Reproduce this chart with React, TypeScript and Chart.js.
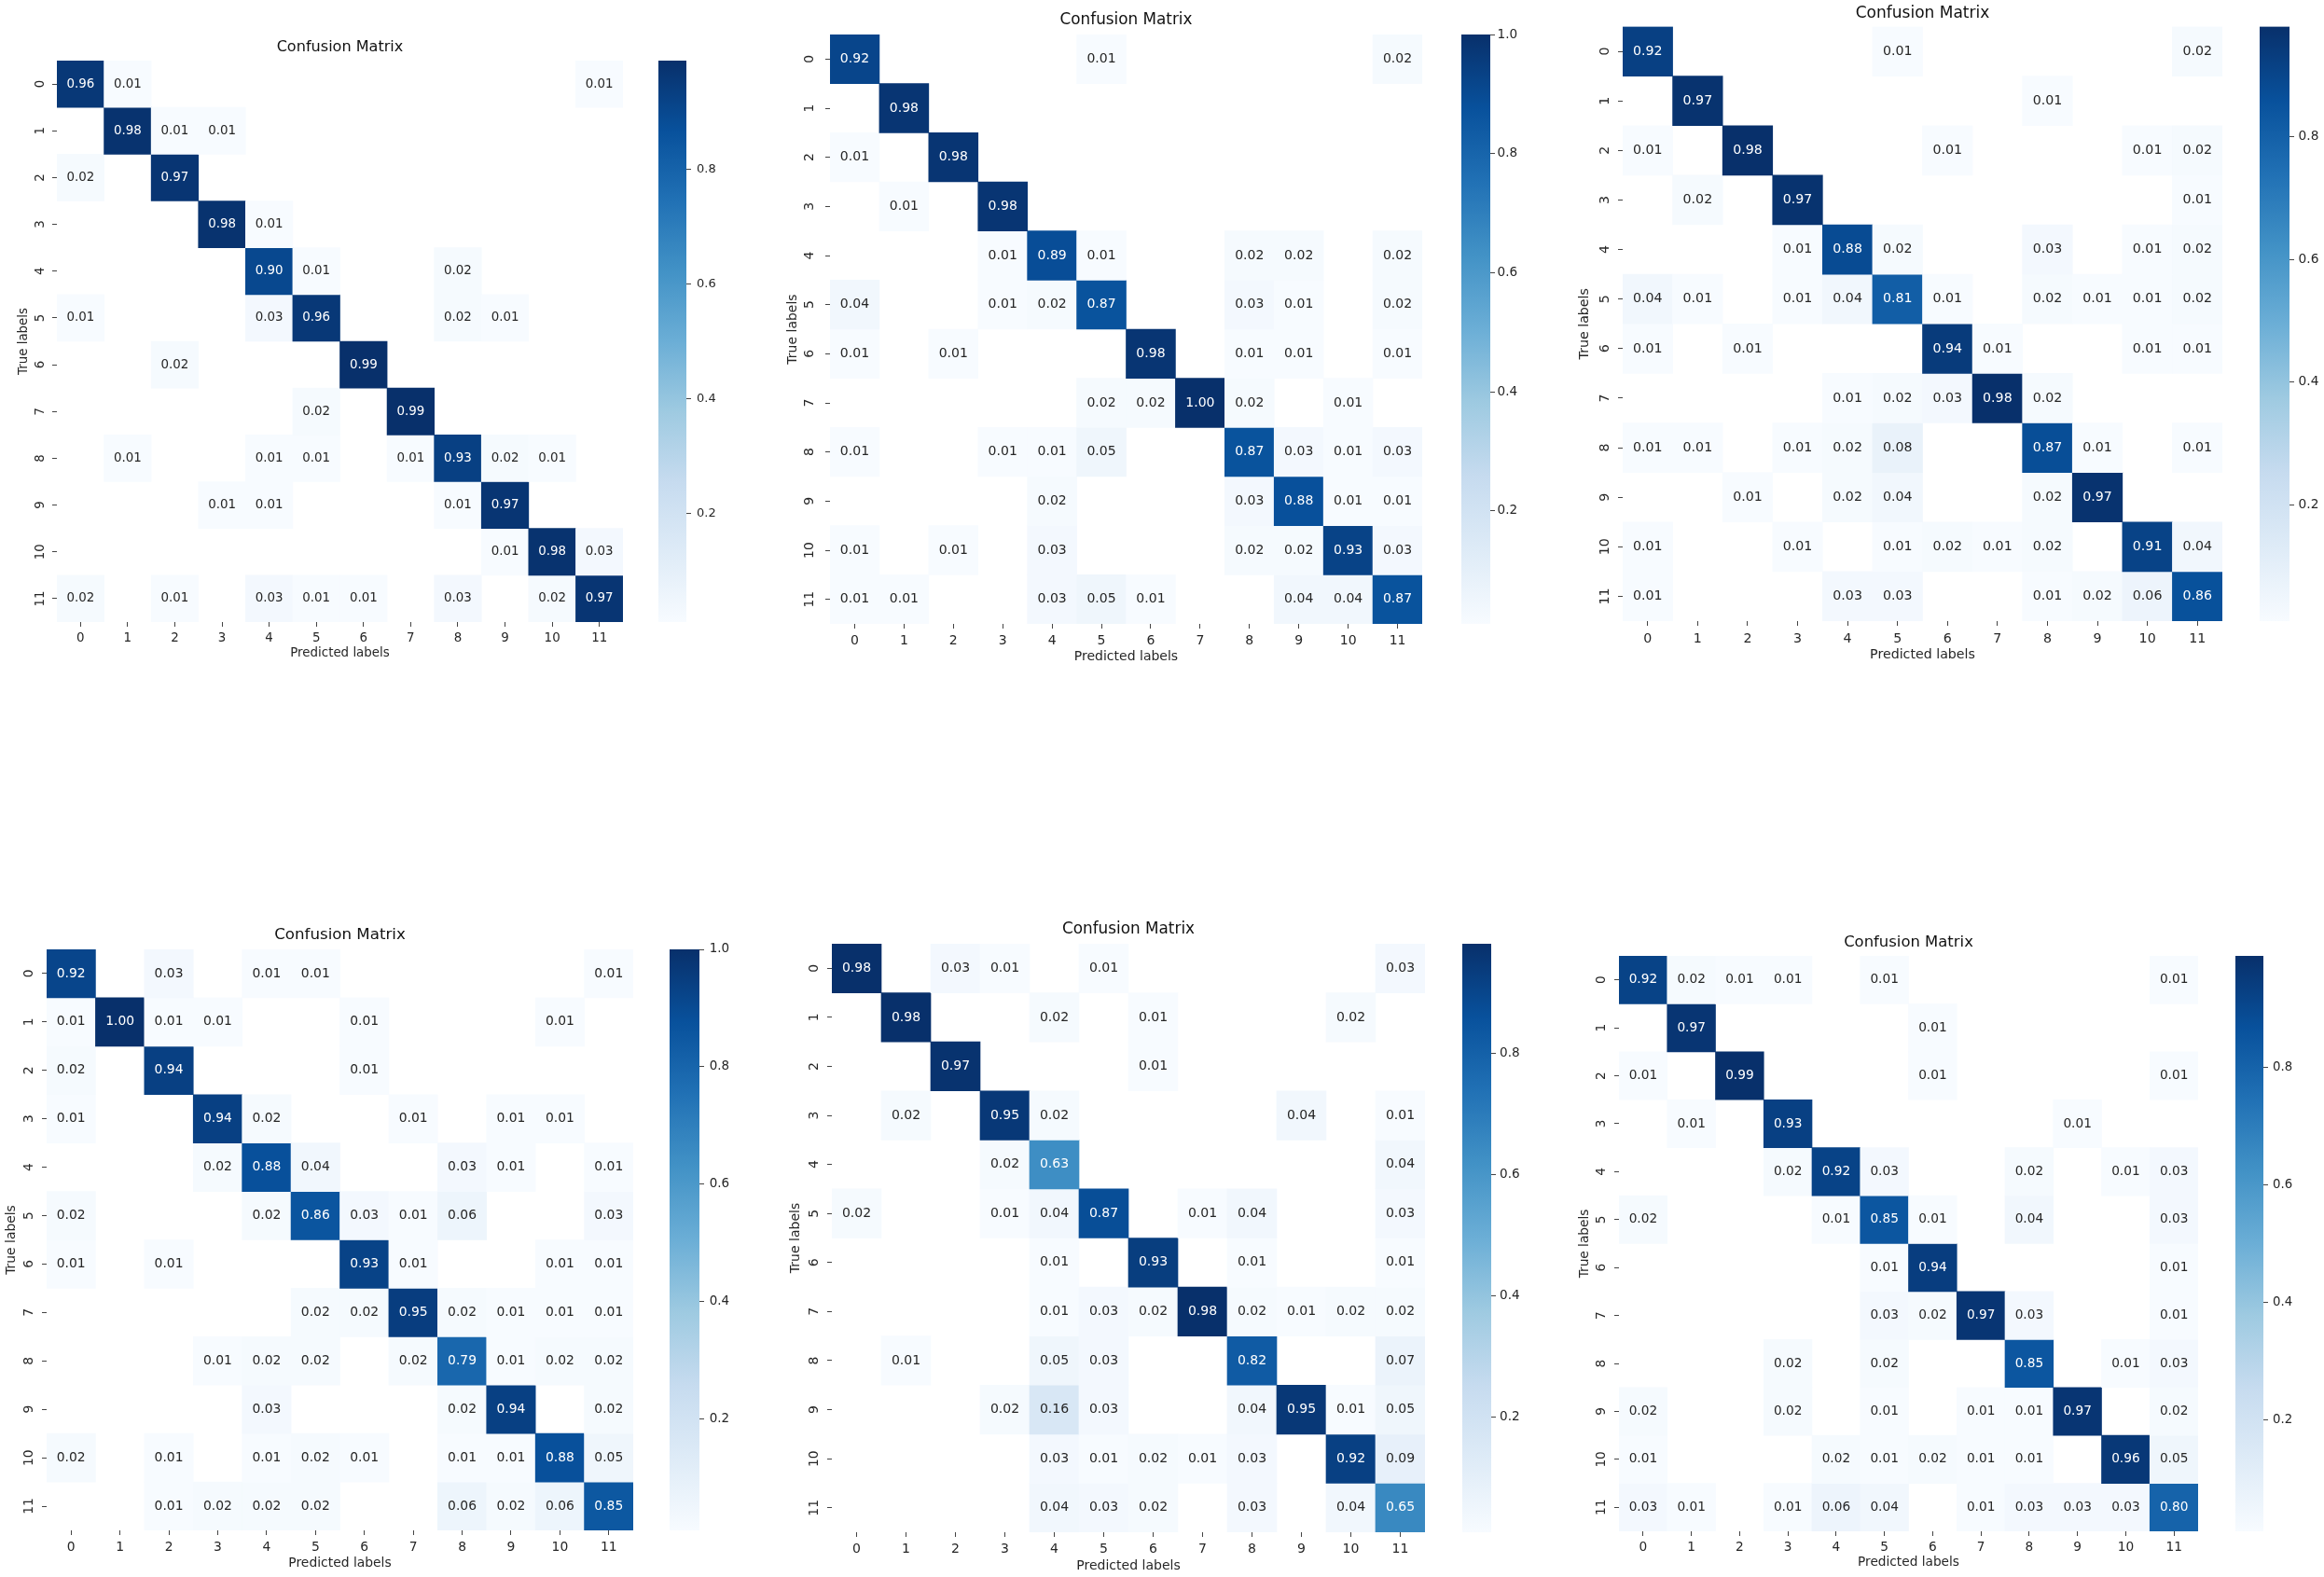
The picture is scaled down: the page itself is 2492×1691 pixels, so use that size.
import React, { useEffect, useRef } from "react";
import { Chart, registerables } from "chart.js";

Chart.register(...registerables);

// ---------------- data ----------------
const CLASS_LABELS = ["0", "1", "2", "3", "4", "5", "6", "7", "8", "9", "10", "11"];
const COLORBAR_TICKS = [0.2, 0.4, 0.6, 0.8, 1.0];
const TITLE_TEXT = "Confusion Matrix";
const X_TITLE = "Predicted labels";
const Y_TITLE = "True labels";
const COLOR_FLOOR = 0.01;

const CM_TOP_LEFT = [
  [0.96, 0.01, 0, 0, 0, 0, 0, 0, 0, 0, 0, 0.01],
  [0, 0.98, 0.01, 0.01, 0, 0, 0, 0, 0, 0, 0, 0],
  [0.02, 0, 0.97, 0, 0, 0, 0, 0, 0, 0, 0, 0],
  [0, 0, 0, 0.98, 0.01, 0, 0, 0, 0, 0, 0, 0],
  [0, 0, 0, 0, 0.9, 0.01, 0, 0, 0.02, 0, 0, 0],
  [0.01, 0, 0, 0, 0.03, 0.96, 0, 0, 0.02, 0.01, 0, 0],
  [0, 0, 0.02, 0, 0, 0, 0.99, 0, 0, 0, 0, 0],
  [0, 0, 0, 0, 0, 0.02, 0, 0.99, 0, 0, 0, 0],
  [0, 0.01, 0, 0, 0.01, 0.01, 0, 0.01, 0.93, 0.02, 0.01, 0],
  [0, 0, 0, 0.01, 0.01, 0, 0, 0, 0.01, 0.97, 0, 0],
  [0, 0, 0, 0, 0, 0, 0, 0, 0, 0.01, 0.98, 0.03],
  [0.02, 0, 0.01, 0, 0.03, 0.01, 0.01, 0, 0.03, 0, 0.02, 0.97],
];

const CM_TOP_MID = [
  [0.92, 0, 0, 0, 0, 0.01, 0, 0, 0, 0, 0, 0.02],
  [0, 0.98, 0, 0, 0, 0, 0, 0, 0, 0, 0, 0],
  [0.01, 0, 0.98, 0, 0, 0, 0, 0, 0, 0, 0, 0],
  [0, 0.01, 0, 0.98, 0, 0, 0, 0, 0, 0, 0, 0],
  [0, 0, 0, 0.01, 0.89, 0.01, 0, 0, 0.02, 0.02, 0, 0.02],
  [0.04, 0, 0, 0.01, 0.02, 0.87, 0, 0, 0.03, 0.01, 0, 0.02],
  [0.01, 0, 0.01, 0, 0, 0, 0.98, 0, 0.01, 0.01, 0, 0.01],
  [0, 0, 0, 0, 0, 0.02, 0.02, 1.0, 0.02, 0, 0.01, 0],
  [0.01, 0, 0, 0.01, 0.01, 0.05, 0, 0, 0.87, 0.03, 0.01, 0.03],
  [0, 0, 0, 0, 0.02, 0, 0, 0, 0.03, 0.88, 0.01, 0.01],
  [0.01, 0, 0.01, 0, 0.03, 0, 0, 0, 0.02, 0.02, 0.93, 0.03],
  [0.01, 0.01, 0, 0, 0.03, 0.05, 0.01, 0, 0, 0.04, 0.04, 0.87],
];

const CM_TOP_RIGHT = [
  [0.92, 0, 0, 0, 0, 0.01, 0, 0, 0, 0, 0, 0.02],
  [0, 0.97, 0, 0, 0, 0, 0, 0, 0.01, 0, 0, 0],
  [0.01, 0, 0.98, 0, 0, 0, 0.01, 0, 0, 0, 0.01, 0.02],
  [0, 0.02, 0, 0.97, 0, 0, 0, 0, 0, 0, 0, 0.01],
  [0, 0, 0, 0.01, 0.88, 0.02, 0, 0, 0.03, 0, 0.01, 0.02],
  [0.04, 0.01, 0, 0.01, 0.04, 0.81, 0.01, 0, 0.02, 0.01, 0.01, 0.02],
  [0.01, 0, 0.01, 0, 0, 0, 0.94, 0.01, 0, 0, 0.01, 0.01],
  [0, 0, 0, 0, 0.01, 0.02, 0.03, 0.98, 0.02, 0, 0, 0],
  [0.01, 0.01, 0, 0.01, 0.02, 0.08, 0, 0, 0.87, 0.01, 0, 0.01],
  [0, 0, 0.01, 0, 0.02, 0.04, 0, 0, 0.02, 0.97, 0, 0],
  [0.01, 0, 0, 0.01, 0, 0.01, 0.02, 0.01, 0.02, 0, 0.91, 0.04],
  [0.01, 0, 0, 0, 0.03, 0.03, 0, 0, 0.01, 0.02, 0.06, 0.86],
];

const CM_BOTTOM_LEFT = [
  [0.92, 0, 0.03, 0, 0.01, 0.01, 0, 0, 0, 0, 0, 0.01],
  [0.01, 1.0, 0.01, 0.01, 0, 0, 0.01, 0, 0, 0, 0.01, 0],
  [0.02, 0, 0.94, 0, 0, 0, 0.01, 0, 0, 0, 0, 0],
  [0.01, 0, 0, 0.94, 0.02, 0, 0, 0.01, 0, 0.01, 0.01, 0],
  [0, 0, 0, 0.02, 0.88, 0.04, 0, 0, 0.03, 0.01, 0, 0.01],
  [0.02, 0, 0, 0, 0.02, 0.86, 0.03, 0.01, 0.06, 0, 0, 0.03],
  [0.01, 0, 0.01, 0, 0, 0, 0.93, 0.01, 0, 0, 0.01, 0.01],
  [0, 0, 0, 0, 0, 0.02, 0.02, 0.95, 0.02, 0.01, 0.01, 0.01],
  [0, 0, 0, 0.01, 0.02, 0.02, 0, 0.02, 0.79, 0.01, 0.02, 0.02],
  [0, 0, 0, 0, 0.03, 0, 0, 0, 0.02, 0.94, 0, 0.02],
  [0.02, 0, 0.01, 0, 0.01, 0.02, 0.01, 0, 0.01, 0.01, 0.88, 0.05],
  [0, 0, 0.01, 0.02, 0.02, 0.02, 0, 0, 0.06, 0.02, 0.06, 0.85],
];

const CM_BOTTOM_MID = [
  [0.98, 0, 0.03, 0.01, 0, 0.01, 0, 0, 0, 0, 0, 0.03],
  [0, 0.98, 0, 0, 0.02, 0, 0.01, 0, 0, 0, 0.02, 0],
  [0, 0, 0.97, 0, 0, 0, 0.01, 0, 0, 0, 0, 0],
  [0, 0.02, 0, 0.95, 0.02, 0, 0, 0, 0, 0.04, 0, 0.01],
  [0, 0, 0, 0.02, 0.63, 0, 0, 0, 0, 0, 0, 0.04],
  [0.02, 0, 0, 0.01, 0.04, 0.87, 0, 0.01, 0.04, 0, 0, 0.03],
  [0, 0, 0, 0, 0.01, 0, 0.93, 0, 0.01, 0, 0, 0.01],
  [0, 0, 0, 0, 0.01, 0.03, 0.02, 0.98, 0.02, 0.01, 0.02, 0.02],
  [0, 0.01, 0, 0, 0.05, 0.03, 0, 0, 0.82, 0, 0, 0.07],
  [0, 0, 0, 0.02, 0.16, 0.03, 0, 0, 0.04, 0.95, 0.01, 0.05],
  [0, 0, 0, 0, 0.03, 0.01, 0.02, 0.01, 0.03, 0, 0.92, 0.09],
  [0, 0, 0, 0, 0.04, 0.03, 0.02, 0, 0.03, 0, 0.04, 0.65],
];

const CM_BOTTOM_RIGHT = [
  [0.92, 0.02, 0.01, 0.01, 0, 0.01, 0, 0, 0, 0, 0, 0.01],
  [0, 0.97, 0, 0, 0, 0, 0.01, 0, 0, 0, 0, 0],
  [0.01, 0, 0.99, 0, 0, 0, 0.01, 0, 0, 0, 0, 0.01],
  [0, 0.01, 0, 0.93, 0, 0, 0, 0, 0, 0.01, 0, 0],
  [0, 0, 0, 0.02, 0.92, 0.03, 0, 0, 0.02, 0, 0.01, 0.03],
  [0.02, 0, 0, 0, 0.01, 0.85, 0.01, 0, 0.04, 0, 0, 0.03],
  [0, 0, 0, 0, 0, 0.01, 0.94, 0, 0, 0, 0, 0.01],
  [0, 0, 0, 0, 0, 0.03, 0.02, 0.97, 0.03, 0, 0, 0.01],
  [0, 0, 0, 0.02, 0, 0.02, 0, 0, 0.85, 0, 0.01, 0.03],
  [0.02, 0, 0, 0.02, 0, 0.01, 0, 0.01, 0.01, 0.97, 0, 0.02],
  [0.01, 0, 0, 0, 0.02, 0.01, 0.02, 0.01, 0.01, 0, 0.96, 0.05],
  [0.03, 0.01, 0, 0.01, 0.06, 0.04, 0, 0.01, 0.03, 0.03, 0.03, 0.8],
];

// ---------------- styles / layout ----------------
const FONT_FAMILY = "'DejaVu Sans', sans-serif";
const TEXT_COLOR = "#262626";
const TICK_COLOR = "#444444";
const BLUES = ["#f7fbff", "#deebf7", "#c6dbef", "#9ecae1", "#6baed6", "#4292c6", "#2171b5", "#08519c", "#08306b"];

type PanelLayout = {
  matrix: number[][];
  L: number; T: number; W: number; H: number;
  titleY: number; yLabX: number; trueX: number; xLabY: number; predY: number;
  cbX: number; cbW: number; cbLabelLeft: number;
};

const PANELS: PanelLayout[] = [
  { matrix: CM_TOP_LEFT, L: 61, T: 65, W: 607, H: 602, titleY: 50.7, yLabX: 43.6, trueX: 25.3, xLabY: 682.7, predY: 701.2, cbX: 706, cbW: 30, cbLabelLeft: 747 },
  { matrix: CM_TOP_MID, L: 890, T: 37, W: 635, H: 632, titleY: 21.6, yLabX: 868.3, trueX: 850.4, xLabY: 685.5, predY: 704.8, cbX: 1567, cbW: 31, cbLabelLeft: 1605.5 },
  { matrix: CM_TOP_RIGHT, L: 1740, T: 28.5, W: 643, H: 637.5, titleY: 13.8, yLabX: 1721.4, trueX: 1699.7, xLabY: 684.1, predY: 702.5, cbX: 2423, cbW: 32, cbLabelLeft: 2464.6 },
  { matrix: CM_BOTTOM_LEFT, L: 50, T: 1018, W: 629, H: 623, titleY: 1002.7, yLabX: 31.5, trueX: 12.1, xLabY: 1658, predY: 1677, cbX: 718, cbW: 32, cbLabelLeft: 760.7 },
  { matrix: CM_BOTTOM_MID, L: 892, T: 1012, W: 636, H: 631, titleY: 997.2, yLabX: 873.4, trueX: 853, xLabY: 1660.3, predY: 1679.3, cbX: 1568, cbW: 31, cbLabelLeft: 1608 },
  { matrix: CM_BOTTOM_RIGHT, L: 1736, T: 1025, W: 621, H: 617, titleY: 1010.8, yLabX: 1717.3, trueX: 1699.2, xLabY: 1658, predY: 1676, cbX: 2397, cbW: 30, cbLabelLeft: 2437 },
];

// ---------------- colour helpers ----------------
function hexToRgb(h: string): number[] {
  return [parseInt(h.slice(1, 3), 16), parseInt(h.slice(3, 5), 16), parseInt(h.slice(5, 7), 16)];
}
function blues(t: number): number[] {
  const n = BLUES.length - 1;
  const p = Math.max(0, Math.min(1, t)) * n;
  const i = Math.min(Math.floor(p), n - 1);
  const f = p - i;
  const a = hexToRgb(BLUES[i]);
  const b = hexToRgb(BLUES[i + 1]);
  return [0, 1, 2].map((k) => a[k] + (b[k] - a[k]) * f);
}
function rgbStr(c: number[]): string {
  return `rgb(${Math.round(c[0])},${Math.round(c[1])},${Math.round(c[2])})`;
}
function luminance(c: number[]): number {
  const lin = c.map((v) => {
    const s = v / 255;
    return s <= 0.03928 ? s / 12.92 : Math.pow((s + 0.055) / 1.055, 2.4);
  });
  return 0.2126 * lin[0] + 0.7152 * lin[1] + 0.0722 * lin[2];
}
function maxOf(m: number[][]): number {
  return Math.max(...m.map((r) => Math.max(...r)));
}

// ---------------- heatmap ----------------
function Heatmap({ p }: { p: PanelLayout }) {
  const ref = useRef<HTMLCanvasElement | null>(null);
  const fs = (13.4 * p.W) / 607;
  const tfs = fs * 1.2;
  const tl = 5;
  const B = p.T + p.H;
  const canvasLeft = Math.round(p.trueX - 0.6 * fs - 2);
  const canvasTop = Math.round(p.titleY - 0.6 * tfs);
  const canvasBottom = Math.round(p.predY + 0.6 * fs + 2);
  const yAxisW = p.L - canvasLeft;
  const xAxisH = canvasBottom - B;
  const titlePadB = p.T - canvasTop - 1.2 * tfs;
  const width = Math.ceil(yAxisW + p.W + 2);
  const height = canvasBottom - canvasTop;
  const padRight = width - yAxisW - p.W;
  const widest = 1.272 * fs;
  const yPad = Math.max(1, p.L - p.yLabX - widest / 2 - tl);
  const xPad = Math.max(1, p.xLabY - B - tl - 0.5 * fs);

  useEffect(() => {
    const canvas = ref.current;
    if (!canvas) return;
    const vmax = maxOf(p.matrix);
    const norm = (v: number) => (v - COLOR_FLOOR) / (vmax - COLOR_FLOOR);
    const font = { family: FONT_FAMILY, size: fs };

    const cellText = {
      id: "cellText",
      afterDatasetsDraw(chart: any) {
        const ctx = chart.ctx;
        ctx.save();
        ctx.font = `${fs}px ${FONT_FAMILY}`;
        ctx.textAlign = "center";
        ctx.textBaseline = "middle";
        chart.data.datasets.forEach((_: any, r: number) => {
          const meta = chart.getDatasetMeta(r);
          meta.data.forEach((bar: any, c: number) => {
            const v = p.matrix[r][c];
            if (!v) return;
            const { x, y, base } = bar.getProps(["x", "y", "base"], true);
            const lum = luminance(blues(norm(v)));
            ctx.fillStyle = lum > 0.408 ? TEXT_COLOR : "#ffffff";
            ctx.fillText(v.toFixed(2), x, (y + base) / 2);
          });
        });
        ctx.restore();
      },
    };

    const chart = new Chart(canvas, {
      type: "bar",
      data: {
        labels: CLASS_LABELS,
        datasets: p.matrix.map((row, r) => ({
          label: `row ${CLASS_LABELS[r]}`,
          data: row.map((v) => (v > 0 ? [r - 0.5, r + 0.5] : null)) as any,
          backgroundColor: row.map((v) => rgbStr(blues(norm(v)))),
          borderWidth: 0,
          barPercentage: 1,
          categoryPercentage: 1,
          grouped: false,
        })),
      },
      options: {
        responsive: false,
        animation: false,
        events: [],
        layout: { padding: { left: 0, top: 0, right: padRight, bottom: 0 } },
        plugins: {
          legend: { display: false },
          tooltip: { enabled: false },
          title: {
            display: true,
            text: TITLE_TEXT,
            fullSize: false,
            color: "#111111",
            font: { family: FONT_FAMILY, size: tfs, weight: "normal" },
            padding: { top: 0, bottom: titlePadB },
          },
        },
        scales: {
          x: {
            type: "category",
            offset: true,
            border: { display: false },
            grid: { offset: false, drawOnChartArea: false, drawTicks: true, tickLength: tl, color: TICK_COLOR, lineWidth: 1 },
            ticks: { font, color: TEXT_COLOR, padding: xPad, maxRotation: 0, minRotation: 0, autoSkip: false },
            title: { display: true, text: X_TITLE, font, color: TEXT_COLOR, padding: { top: 0, bottom: 2 } },
            afterFit: (s: any) => {
              s.height = xAxisH;
            },
          },
          y: {
            type: "linear",
            reverse: true,
            min: -0.5,
            max: 11.5,
            border: { display: false },
            grid: { drawOnChartArea: false, drawTicks: true, tickLength: tl, color: TICK_COLOR, lineWidth: 1 },
            afterBuildTicks: (s: any) => {
              s.ticks = CLASS_LABELS.map((_, i) => ({ value: i }));
            },
            ticks: {
              font,
              color: TEXT_COLOR,
              padding: yPad,
              minRotation: 90,
              maxRotation: 90,
              crossAlign: "center",
              autoSkip: false,
              callback: (v: any) => CLASS_LABELS[Math.round(Number(v))],
            },
            title: { display: true, text: Y_TITLE, font, color: TEXT_COLOR, padding: { top: 2, bottom: 0 } },
            afterFit: (s: any) => {
              s.width = yAxisW;
            },
          },
        },
      } as any,
      plugins: [cellText as any],
    });
    return () => chart.destroy();
  }, []);

  return (
    <canvas
      ref={ref}
      width={width}
      height={height}
      style={{ position: "absolute", left: canvasLeft, top: canvasTop, width, height }}
    />
  );
}

// ---------------- colorbar ----------------
function Colorbar({ p }: { p: PanelLayout }) {
  const ref = useRef<HTMLCanvasElement | null>(null);
  const fs = (13.4 * p.W) / 607;
  const tl = 5;
  const left = Math.round(p.cbX);
  const top = Math.round(p.T - 16);
  const padTop = p.T - top;
  const height = Math.ceil(p.H + padTop + 16);
  const padBottom = height - padTop - p.H;
  const width = Math.ceil(p.cbW + 48);
  const axisW = width - p.cbW;
  const labelPad = Math.max(1, p.cbLabelLeft - (left + p.cbW) - tl);

  useEffect(() => {
    const canvas = ref.current;
    if (!canvas) return;
    const vmax = maxOf(p.matrix);
    const chart = new Chart(canvas, {
      type: "bar",
      data: {
        labels: ["scale"],
        datasets: [
          {
            label: "colour scale",
            data: [[COLOR_FLOOR, vmax]] as any,
            backgroundColor: (c: any) => {
              const area = c.chart.chartArea;
              if (!area) return BLUES[4];
              const g = c.chart.ctx.createLinearGradient(0, area.bottom, 0, area.top);
              BLUES.forEach((col, i) => g.addColorStop(i / (BLUES.length - 1), col));
              return g;
            },
            borderWidth: 0,
            barPercentage: 1,
            categoryPercentage: 1,
          },
        ],
      },
      options: {
        responsive: false,
        animation: false,
        events: [],
        layout: { padding: { left: 0, top: padTop, right: 0, bottom: padBottom } },
        plugins: { legend: { display: false }, tooltip: { enabled: false }, title: { display: false } },
        scales: {
          x: { type: "category", display: false, offset: true },
          y: {
            type: "linear",
            position: "right",
            min: COLOR_FLOOR,
            max: vmax,
            border: { display: false },
            grid: { drawOnChartArea: false, drawTicks: true, tickLength: tl, color: TICK_COLOR, lineWidth: 1 },
            afterBuildTicks: (s: any) => {
              s.ticks = COLORBAR_TICKS.filter((v) => v >= COLOR_FLOOR - 1e-9 && v <= vmax + 1e-9).map((v) => ({ value: v }));
            },
            ticks: {
              font: { family: FONT_FAMILY, size: fs * 0.97 },
              color: TEXT_COLOR,
              padding: labelPad,
              autoSkip: false,
              callback: (v: any) => Number(v).toFixed(1),
            },
            afterFit: (s: any) => {
              s.width = axisW;
            },
          },
        },
      } as any,
    });
    return () => chart.destroy();
  }, []);

  return (
    <canvas
      ref={ref}
      width={width}
      height={height}
      style={{ position: "absolute", left, top, width, height }}
    />
  );
}

export default function App() {
  useEffect(() => {
    document.documentElement.style.overflow = "hidden";
    document.body.style.margin = "0";
  }, []);
  return (
    <div
      style={{
        position: "absolute",
        left: 0,
        top: 0,
        width: 2492,
        height: 1691,
        background: "#ffffff",
        overflow: "hidden",
      }}
    >
      {PANELS.map((p, i) => (
        <React.Fragment key={i}>
          <Heatmap p={p} />
          <Colorbar p={p} />
        </React.Fragment>
      ))}
    </div>
  );
}
